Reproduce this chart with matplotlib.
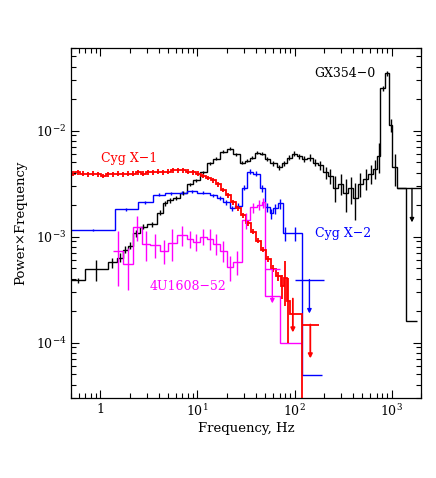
import numpy as np
import matplotlib.pyplot as plt
from matplotlib.ticker import FixedLocator, FixedFormatter, LogLocator, NullFormatter

# ---- GX354-0 (black) ----
gx_edges = [0.5, 0.69, 1.19, 1.47, 1.70, 1.91, 2.15, 2.54, 3.00, 3.80,
            4.39, 4.83, 5.56, 6.57, 7.76, 8.95, 10.6, 12.5, 14.4, 17.0,
            20.0, 23.1, 27.3, 30.8, 34.7, 39.0, 43.9, 49.4, 55.7, 65.7,
            74.0, 83.4, 93.8, 106, 119, 134, 154, 174, 196, 221,
            248, 280, 315, 355, 399, 449, 506, 570, 642, 706,
            758, 853, 938, 1006, 1134, 1404, 1821]
gx_pow = [3.85e-4, 4.89e-4, 5.69e-4, 6.34e-4, 7.54e-4, 8.22e-4, 1.07e-3, 1.24e-3, 1.30e-3, 1.68e-3,
          2.05e-3, 2.19e-3, 2.33e-3, 2.60e-3, 3.10e-3, 3.38e-3, 4.02e-3, 4.89e-3, 5.44e-3, 6.33e-3,
          6.76e-3, 5.94e-3, 4.99e-3, 5.21e-3, 5.56e-3, 6.20e-3, 6.06e-3, 5.44e-3, 4.89e-3, 4.48e-3,
          4.89e-3, 5.56e-3, 6.06e-3, 5.69e-3, 5.44e-3, 5.56e-3, 4.99e-3, 4.68e-3, 4.02e-3, 3.76e-3,
          2.90e-3, 3.16e-3, 2.60e-3, 2.84e-3, 2.33e-3, 3.16e-3, 3.52e-3, 3.93e-3, 4.38e-3, 5.81e-3,
          2.49e-2, 3.45e-2, 1.12e-2, 4.48e-3, 2.84e-3, 1.61e-4]
gx_err = [0.2e-4, 1.1e-4, 0.6e-4, 0.6e-4, 0.6e-4, 0.6e-4, 0.7e-4, 0.7e-4, 0.7e-4, 0.9e-4,
          1.0e-4, 1.0e-4, 1.0e-4, 1.1e-4, 1.2e-4, 1.3e-4, 1.5e-4, 1.8e-4, 2.0e-4, 2.2e-4,
          2.4e-4, 2.2e-4, 2.0e-4, 2.0e-4, 2.2e-4, 2.4e-4, 2.4e-4, 2.4e-4, 2.4e-4, 2.5e-4,
          2.6e-4, 3.0e-4, 3.2e-4, 3.2e-4, 3.5e-4, 3.8e-4, 4.0e-4, 4.5e-4, 5.0e-4, 6.0e-4,
          8.0e-4, 7.0e-4, 9.0e-4, 8.0e-4, 9.0e-4, 8.0e-4, 8.0e-4, 8.0e-4, 9.0e-4, 1.8e-3,
          1.5e-3, 2.0e-3, 1.5e-3, 1.5e-3, 0, 0]
gx_ulim = [(1134, 2300, 2.84e-3)]

# ---- Cyg X-2 (blue) ----
cx2_edges = [0.5, 1.41, 2.43, 3.46, 4.60, 6.12, 7.76, 9.84, 13.4, 15.8,
             18.2, 21.5, 24.2, 28.6, 32.2, 37.2, 43.9, 49.4, 55.7, 59.8,
             67.3, 75.8, 85.3, 119, 191]
cx2_pow = [1.16e-3, 1.80e-3, 2.10e-3, 2.49e-3, 2.55e-3, 2.60e-3, 2.66e-3, 2.60e-3, 2.44e-3, 2.33e-3,
           2.10e-3, 1.84e-3, 1.96e-3, 2.90e-3, 4.10e-3, 3.93e-3, 2.84e-3, 1.88e-3, 1.65e-3, 1.84e-3,
           2.05e-3, 1.07e-3, 1.07e-3, 4.99e-5]
cx2_err = [0.3e-4, 0.6e-4, 0.7e-4, 0.8e-4, 0.8e-4, 0.8e-4, 0.8e-4, 0.9e-4, 0.9e-4, 1.0e-4,
           1.0e-4, 1.0e-4, 1.2e-4, 1.6e-4, 2.2e-4, 2.4e-4, 2.2e-4, 1.8e-4, 1.8e-4, 2.0e-4,
           2.2e-4, 1.7e-4, 1.7e-4, 0]
cx2_ulim = [(101, 200, 3.93e-4)]

# ---- Cyg X-1 (red) ----
cx1_edges = [0.5, 0.556, 0.626, 0.706, 0.794, 0.894, 1.007, 1.134, 1.277, 1.438,
             1.619, 1.823, 2.053, 2.312, 2.603, 2.931, 3.301, 3.717, 4.184, 4.713,
             5.306, 5.975, 6.727, 7.577, 8.530, 9.605, 10.81, 12.18, 13.71, 15.44,
             17.39, 19.58, 22.04, 24.82, 27.95, 31.47, 35.44, 39.90, 44.94, 50.59,
             56.98, 64.15, 72.24, 77.6, 83.3, 89.4, 119, 177]
cx1_pow = [3.93e-3, 4.02e-3, 3.93e-3, 3.85e-3, 3.93e-3, 3.85e-3, 3.76e-3, 3.85e-3, 3.85e-3, 3.93e-3,
           3.85e-3, 3.93e-3, 3.93e-3, 4.02e-3, 3.93e-3, 4.02e-3, 4.02e-3, 4.10e-3, 4.02e-3, 4.10e-3,
           4.20e-3, 4.20e-3, 4.20e-3, 4.10e-3, 4.02e-3, 3.93e-3, 3.76e-3, 3.60e-3, 3.38e-3, 3.10e-3,
           2.77e-3, 2.44e-3, 2.10e-3, 1.84e-3, 1.58e-3, 1.33e-3, 1.11e-3, 9.17e-4, 7.54e-4, 6.19e-4,
           4.99e-4, 4.20e-4, 3.45e-4, 4.02e-4, 2.49e-4, 1.84e-4, 1.0e-5]
cx1_err = [1.8e-4, 1.9e-4, 1.8e-4, 1.8e-4, 1.8e-4, 1.7e-4, 1.7e-4, 1.7e-4, 1.7e-4, 1.8e-4,
           1.7e-4, 1.8e-4, 1.8e-4, 1.8e-4, 1.8e-4, 1.8e-4, 1.8e-4, 1.9e-4, 1.8e-4, 1.9e-4,
           1.9e-4, 1.9e-4, 1.9e-4, 1.9e-4, 1.8e-4, 1.8e-4, 1.7e-4, 1.6e-4, 1.5e-4, 1.4e-4,
           1.3e-4, 1.2e-4, 1.0e-4, 0.9e-4, 0.8e-4, 0.7e-4, 0.6e-4, 0.5e-4, 0.45e-4, 0.4e-4,
           0.4e-4, 0.4e-4, 0.9e-4, 1.8e-4, 1.6e-4, 0, 0]
cx1_ulim = [(119, 177, 1.48e-4), (96, 96, 2.6e-4)]

# ---- 4U1608-52 (magenta) ----
u16_edges = [1.34, 1.70, 2.15, 2.67, 3.22, 4.09, 4.94, 6.12, 7.76, 8.95,
             10.6, 12.5, 14.4, 17.0, 20.0, 23.1, 28.6, 34.6, 40.8, 46.0,
             49.4, 70.5, 119]
u16_pow = [7.38e-4, 5.45e-4, 1.24e-3, 8.59e-4, 8.41e-4, 7.38e-4, 8.78e-4, 1.04e-3, 9.57e-4, 8.97e-4,
           1.00e-3, 9.57e-4, 8.59e-4, 7.38e-4, 5.21e-4, 5.81e-4, 1.42e-3, 1.88e-3, 2.00e-3, 2.10e-3,
           2.77e-4, 9.8e-5]
u16_err = [4.0e-4, 2.3e-4, 3.3e-4, 2.7e-4, 2.2e-4, 1.9e-4, 2.9e-4, 2.3e-4, 1.7e-4, 1.6e-4,
           1.7e-4, 2.1e-4, 1.9e-4, 1.6e-4, 1.4e-4, 1.5e-4, 2.5e-4, 2.0e-4, 2.2e-4, 2.3e-4,
           0, 0]
u16_ulim = [(49.4, 70.5, 4.89e-4)]

plt.rcParams['font.family'] = ['DejaVu Serif']
plt.rcParams['mathtext.fontset'] = 'dejavuserif'

fig = plt.figure(figsize=(4.36, 4.78), dpi=100)
ax = fig.add_axes([71 / 436, 80 / 478, 350 / 436, 350 / 478])
ax.set_xscale('log')
ax.set_yscale('log')


def draw_spec(edges, pw, err, ulims, color, lw=1.0):
    e = np.array(edges)
    p = np.array(pw)
    s = np.array(err)
    ax.stairs(p, e, baseline=None, color=color, lw=lw)
    cen = np.sqrt(e[:-1] * e[1:])
    ok = s > 0
    lo = np.minimum(s[ok], p[ok] * 0.6)
    ax.errorbar(cen[ok], p[ok], yerr=[lo, s[ok]], fmt='none', ecolor=color,
                elinewidth=lw, capsize=0)
    for f0, f1, v in ulims:
        if f1 > f0:
            ax.hlines(v, f0, f1, color=color, lw=lw)
        xc = np.sqrt(f0 * f1)
        # arrow of fixed length (~0.32 dex) pointing down
        ax.annotate('', xy=(xc, v / 10 ** 0.32), xytext=(xc, v),
                    arrowprops=dict(arrowstyle='-|>', color=color, lw=lw,
                                    shrinkA=0, shrinkB=0, mutation_scale=6))


draw_spec(gx_edges, gx_pow, gx_err, gx_ulim, 'black')
draw_spec(cx2_edges, cx2_pow, cx2_err, cx2_ulim, '#0000ff')
draw_spec(u16_edges, u16_pow, u16_err, u16_ulim, '#ff00ff')
draw_spec(cx1_edges, cx1_pow, cx1_err, cx1_ulim, '#ff0000', lw=1.3)

ax.text(330, 0.0345, 'GX354\u22120', color='black', fontsize=9, ha='center', va='center')
ax.text(1.96, 5.44e-3, 'Cyg X\u22121', color='#ff0000', fontsize=9, ha='center', va='center')
ax.text(315, 1.07e-3, 'Cyg X\u22122', color='#0000ff', fontsize=9, ha='center', va='center')
ax.text(7.98, 3.37e-4, '4U1608\u221252', color='#ff00ff', fontsize=9, ha='center', va='center')

ax.set_xlim(0.5, 2000)
ax.set_ylim(3e-5, 0.06)

ax.xaxis.set_major_locator(FixedLocator([1, 10, 100, 1000]))
ax.xaxis.set_major_formatter(FixedFormatter(['1', r'$10^1$', r'$10^2$', r'$10^3$']))
ax.xaxis.set_minor_locator(LogLocator(base=10, subs=np.arange(2, 10), numticks=20))
ax.xaxis.set_minor_formatter(NullFormatter())
ax.yaxis.set_major_locator(FixedLocator([1e-4, 1e-3, 1e-2]))
ax.yaxis.set_major_formatter(FixedFormatter([r'$10^{-4}$', r'$10^{-3}$', r'$10^{-2}$']))
ax.yaxis.set_minor_locator(LogLocator(base=10, subs=np.arange(2, 10), numticks=20))
ax.yaxis.set_minor_formatter(NullFormatter())

ax.tick_params(which='both', direction='in', top=True, right=True, labelsize=9)
ax.tick_params(which='major', length=6, width=0.8)
ax.tick_params(which='minor', length=3.5, width=0.8)
for sp in ax.spines.values():
    sp.set_linewidth(0.9)

ax.set_xlabel('Frequency, Hz', fontsize=9.5, labelpad=2)
ax.set_ylabel('Power\u00d7Frequency', fontsize=9.5, labelpad=6)

fig.savefig('out.png', dpi=100)
